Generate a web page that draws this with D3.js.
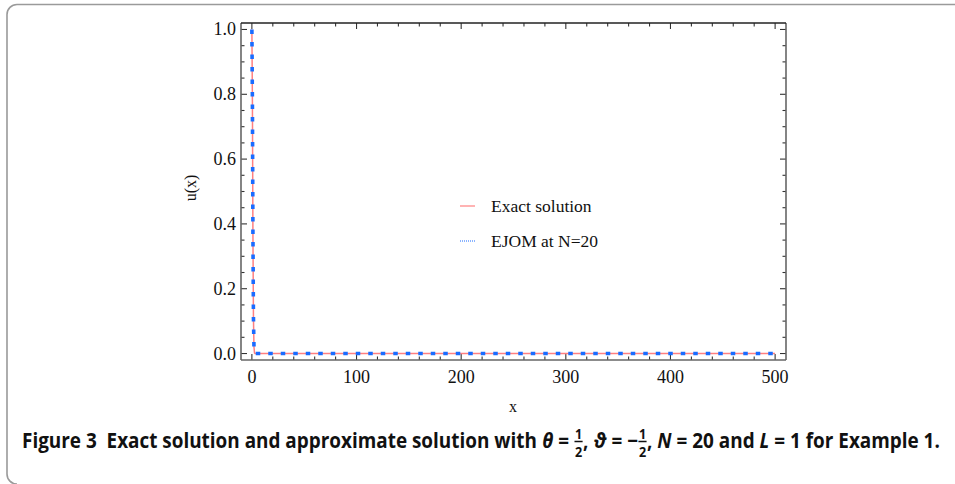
<!DOCTYPE html>
<html><head><meta charset="utf-8">
<script src="https://cdn.jsdelivr.net/npm/d3@7"></script>
<style>body{margin:0;background:#fff}</style></head>
<body>
<svg id="c" width="955" height="484"></svg>
<script>
// Data
const exactX = [0, 0.5, 1, 1.5, 2, 2.5, 3, 5, 10, 50, 100, 150, 200, 250, 300, 350, 400, 450, 500];
const exactU = [1, 0.78, 0.37, 0.11, 0.02, 0.002, 0, 0, 0, 0, 0, 0, 0, 0, 0, 0, 0, 0, 0];
const ejomX  = [0, 0.5, 1, 1.5, 2, 2.5, 3, 5, 10, 50, 100, 150, 200, 250, 300, 350, 400, 450, 500];
const ejomU  = [1, 0.78, 0.37, 0.11, 0.02, 0.002, 0, 0, 0, 0, 0, 0, 0, 0, 0, 0, 0, 0, 0];
const xTicks = [0, 100, 200, 300, 400, 500];
const yTicks = [0, 0.2, 0.4, 0.6, 0.8, 1.0];
const seriesNames = ["Exact solution", "EJOM at N=20"];

const svg = d3.select("#c");
const L = 241, R = 786, T = 23, B = 360;
const x = d3.scaleLinear().domain([-10.4, 510.4]).range([L, R]);
const y = d3.scaleLinear().domain([-0.02, 1.02]).range([B, T]);

// outer rounded border
svg.append("path")
  .attr("d", "M955,4.5 H17 A10,10 0 0 0 7,14.5 V474 A10,10 0 0 0 17,484")
  .attr("fill", "none").attr("stroke", "#9a9a9a").attr("stroke-width", 1.6);

const serif = "'Liberation Serif','Times New Roman',serif";

// ticks
const xMinor = d3.range(0, 501, 20);
const yMinor = d3.range(0, 1.001, 0.05);
const tg = svg.append("g").attr("stroke", "#333").attr("stroke-width", 1.1);
xMinor.forEach(v => {
  const major = xTicks.some(t => Math.abs(t - v) < 1e-6);
  const len = major ? 6 : 3.5;
  tg.append("line").attr("x1", x(v)).attr("x2", x(v)).attr("y1", B).attr("y2", B - len);
  tg.append("line").attr("x1", x(v)).attr("x2", x(v)).attr("y1", T).attr("y2", T + len);
});
yMinor.forEach(v => {
  const major = yTicks.some(t => Math.abs(t - v) < 1e-6);
  const len = major ? 6 : 3.5;
  tg.append("line").attr("y1", y(v)).attr("y2", y(v)).attr("x1", L).attr("x2", L + len);
  tg.append("line").attr("y1", y(v)).attr("y2", y(v)).attr("x1", R).attr("x2", R - len);
});

// frame
svg.append("line").attr("x1", L).attr("x2", R).attr("y1", B).attr("y2", B).attr("stroke", "#666").attr("stroke-width", 1.6);
svg.append("line").attr("x1", L).attr("x2", L).attr("y1", T).attr("y2", B).attr("stroke", "#666").attr("stroke-width", 1.6);
svg.append("line").attr("x1", R).attr("x2", R).attr("y1", T).attr("y2", B).attr("stroke", "#666").attr("stroke-width", 1.6);
svg.append("line").attr("x1", L).attr("x2", R).attr("y1", T).attr("y2", T).attr("stroke", "#222").attr("stroke-width", 1.3);

// tick labels
xTicks.forEach(v => {
  svg.append("text").attr("x", x(v)).attr("y", 383).attr("text-anchor", "middle")
    .attr("font-family", serif).attr("font-size", 18).attr("fill", "#111").text(d3.format("d")(v));
});
yTicks.forEach(v => {
  svg.append("text").attr("x", 236).attr("y", y(v) + 6).attr("text-anchor", "end")
    .attr("font-family", serif).attr("font-size", 18).attr("fill", "#111").text(d3.format(".1f")(v));
});

// axis titles
svg.append("text").attr("x", 513).attr("y", 412).attr("text-anchor", "middle")
  .attr("font-family", serif).attr("font-size", 16).attr("fill", "#111").text("x");
svg.append("text").attr("transform", "translate(196,188) rotate(-90)").attr("text-anchor", "middle")
  .attr("font-family", serif).attr("font-size", 16).attr("fill", "#111").text("u(x)");

// lines
const line = d3.line().x(d => x(d[0])).y(d => y(d[1]));
svg.append("path").datum(exactX.map((v, i) => [v, exactU[i]])).attr("d", line)
  .attr("fill", "none").attr("stroke", "#ff8080").attr("stroke-width", 1.5);
svg.append("path").datum(ejomX.map((v, i) => [v, ejomU[i]])).attr("d", line)
  .attr("fill", "none").attr("stroke", "#1a6cff").attr("stroke-width", 3.6)
  .attr("stroke-dasharray", "4.5,8");

// legend
svg.append("line").attr("x1", 460).attr("x2", 475).attr("y1", 206).attr("y2", 206)
  .attr("stroke", "#ff8080").attr("stroke-width", 1.2);
svg.append("line").attr("x1", 460).attr("x2", 475).attr("y1", 241).attr("y2", 241)
  .attr("stroke", "#1a6cff").attr("stroke-width", 1.2).attr("stroke-dasharray", "1,1");
seriesNames.forEach((n, i) => {
  svg.append("text").attr("x", 491).attr("y", 212 + i * 35)
    .attr("font-family", serif).attr("font-size", 17.5).attr("fill", "#111").text(n);
});

// caption
const NB = "\u00a0";
const cap = svg.append("g").attr("font-family", "'Open Sans','Noto Sans',sans-serif")
  .attr("font-weight", "bold").attr("font-size", 21).attr("fill", "#111");
let cx = 0;
function seg(t, it) {
  const el = cap.append("text").attr("x", cx).attr("y", 0).text(t.replace(/ /g, NB));
  if (it) el.attr("font-style", "italic");
  cx += el.node().getComputedTextLength();
}
function frac(n, d) {
  const a = cap.append("text").attr("x", cx + 1).attr("y", -9.5).attr("font-size", 14).text(n);
  const b = cap.append("text").attr("x", cx + 1).attr("y", 8.5).attr("font-size", 14).text(d);
  const w = Math.max(a.node().getComputedTextLength(), b.node().getComputedTextLength()) + 2;
  cap.append("line").attr("x1", cx + 0.5).attr("x2", cx + w - 0.5).attr("y1", -6.5).attr("y2", -6.5)
    .attr("stroke", "#111").attr("stroke-width", 1.5);
  cx += w;
}
seg("Figure 3  Exact solution and approximate solution with ");
seg("θ", true); seg(" = "); frac("1", "2"); seg(", ");
seg("ϑ", true); seg(" = −"); frac("1", "2"); seg(", ");
seg("N", true); seg(" = 20 and "); seg("L", true); seg(" = 1 for Example 1.");
const sx = (940 - 22) / cx;
cap.attr("transform", `translate(22,448) scale(${sx},1)`);
</script>
</body></html>
